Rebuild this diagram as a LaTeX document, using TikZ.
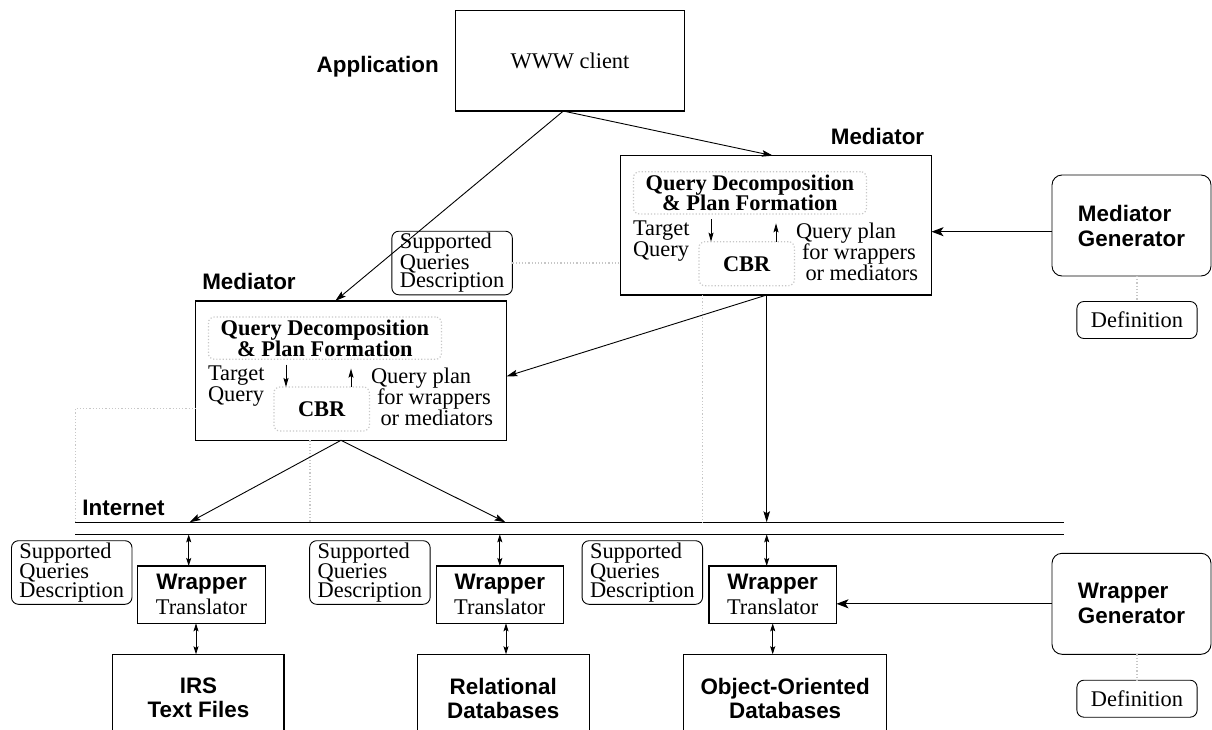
\documentclass[tikz,border=0pt]{standalone}
\usepackage{fontspec}
\setmainfont{Liberation Serif}
\setsansfont{Liberation Sans}
\usetikzlibrary{arrows.meta,calc}
\newcommand\drawmediator[3]{%
\begin{scope}[shift={(#2,#3)}]
  \node[box, minimum width=311pt, minimum height=139.3pt] (#1box) at (155.5,69.65) {};
  \node[dotbox, minimum width=233.1pt, minimum height=42.3pt, align=center,
        font=\fontsize{22.4}{20.6}\selectfont\bfseries] (#1qd) at (129.45,37.15)
        {Query Decomposition\\\& Plan Formation};
  \node[dotbox, minimum width=95.5pt, minimum height=44pt,
        font=\fontsize{22.4}{21}\selectfont\bfseries] (#1cbr) at (126.15,108) {CBR};
  \node[serif, anchor=west, align=left] (#1tq) at (12.5,85.5) {Target\\Query};
  \node[serif, anchor=west, align=left] (#1qp) at (175.5,96.3)
        {Query plan\\\hspace*{6pt}for wrappers\\\hspace*{9.5pt}or mediators};
  \coordinate (#1dA) at (90.5,63.6);
  \coordinate (#1uA) at (155.5,67.6);
  \draw[smarr] (#1dA) -- (#1dA |- #1cbr.north);
  \draw[smarr] (#1uA |- #1cbr.north) -- (#1uA);
\end{scope}}
\begin{document}
\begin{tikzpicture}[x=1pt,y=-1pt,
  every node/.style={inner sep=0pt, outer sep=0pt},
  serif/.style={font=\fontsize{22.4}{21}\selectfont},
  sanslbl/.style={font=\fontsize{22.4}{24}\selectfont\sffamily\bfseries},
  box/.style={draw, line width=1.1pt},
  rbox/.style={draw, line width=0.9pt, rounded corners=7pt},
  supbox/.style={rbox, align=left, font=\fontsize{22.4}{18.5}\selectfont,
                 minimum width=120.5pt, minimum height=63.6pt},
  genbox/.style={rbox, rounded corners=10pt, align=left, sanslbl,
                 font=\fontsize{22.4}{25}\selectfont\sffamily\bfseries,
                 minimum width=159pt, minimum height=101pt},
  defbox/.style={rbox, serif, minimum width=120.2pt, minimum height=37pt},
  wrapbox/.style={box, align=center, font=\fontsize{22.4}{25}\selectfont,
                  minimum width=127.5pt, minimum height=57.3pt},
  dbbox/.style={box, align=center, sanslbl, minimum height=87.4pt},
  dotbox/.style={draw=black!22, dotted, line width=1.2pt, rounded corners=6pt},
  faint/.style={draw=black!22, dotted, line width=1.2pt},
  arr/.style={line width=0.9pt, -{Stealth[length=11pt,width=6.5pt,inset=2pt]}},
  garr/.style={line width=1.1pt, -{Stealth[length=12pt,width=9pt,inset=3pt]}},
  smarr/.style={line width=0.9pt, -{Stealth[length=9pt,width=5pt,inset=1.5pt]}},
  darr/.style={line width=0.9pt, {Stealth[length=8pt,width=5pt,inset=1.5pt]}-{Stealth[length=8pt,width=5pt,inset=1.5pt]}},
  netline/.style={line width=1.3pt}
]
\useasboundingbox (0,0) rectangle (1212,730);
\clip (0,0) rectangle (1212,730);

% application
\node[sanslbl] (app) at (377.7,67) {Application};
\node[box, serif, minimum width=228.6pt, minimum height=100.3pt] (www) at (570,60.9) {WWW client};

% mediators
\node[sanslbl] (mRl) at (877.5,136.7) {Mediator};
\node[sanslbl] (mLl) at (249,281.7) {Mediator};
\drawmediator{mR}{620.5}{155.7}
\drawmediator{mL}{195.5}{301}

% supported queries descriptions
\node[supbox] (sq0) at (452.1,263) {Supported\\Queries\\Description};
\node[supbox] (sq1) at (71.75,572.5) {Supported\\Queries\\Description};
\node[supbox] (sq2) at (369.9,572.5) {Supported\\Queries\\Description};
\node[supbox] (sq3) at (642.3,572.5) {Supported\\Queries\\Description};

% generators and definitions
\node[genbox] (mg) at (1131.5,225.5) {Mediator\\Generator};
\node[genbox] (wg) at (1131.5,603.8) {Wrapper\\Generator};
\node[defbox] (md) at (1137,320) {Definition};
\node[defbox] (wd) at (1137,698.7) {Definition};

% internet
\node[sanslbl] (inet) at (123.5,508.3) {Internet};
\coordinate (n1L) at (75.4,522.3);
\coordinate (n1R) at (1064.4,522.3);
\coordinate (n2L) at (75.4,534.3);
\coordinate (n2R) at (1064.4,534.3);
\draw[netline] (n1L) -- (n1R);
\draw[netline] (n2L) -- (n2R);

% wrappers
\node[wrapbox] (w1) at (201.5,594.65) {{\sffamily\bfseries Wrapper}\\Translator};
\node[wrapbox] (w2) at (499.8,594.65) {{\sffamily\bfseries Wrapper}\\Translator};
\node[wrapbox] (w3) at (772.7,594.65) {{\sffamily\bfseries Wrapper}\\Translator};

% sources
\node[dbbox, minimum width=171.1pt] (irs) at (198.45,698) {IRS\\Text Files};
\node[dbbox, minimum width=172.3pt] (rel) at (503.25,698) {Relational\\Databases};
\node[dbbox, minimum width=202.5pt] (oo) at (785.15,698) {Object-Oriented\\Databases};

% faint dotted links
\coordinate (fL) at (75.4,408.3);
\coordinate (fM) at (310,0);
\coordinate (fR) at (702.7,0);
\draw[faint] (sq0.east) -- (sq0.east -| mRbox.west);
\draw[faint] (n1L) -- (fL) -- (fL -| mLbox.west);
\draw[faint] (fM |- mLbox.south) -- (fM |- n1L);
\draw[faint] (fR |- mRbox.south) -- (fR |- n1L);
\draw[faint] (mg.south -| md.north) -- (md.north);
\draw[faint] (wg.south -| wd.north) -- (wd.north);

% main arrows
\coordinate (wwwS) at ([xshift=-6.7pt]www.south);
\draw[arr] (wwwS) -- ([xshift=-3pt]mRbox.north);
\draw[arr] (wwwS) -- ([xshift=-15.8pt]mLbox.north);
\coordinate (mRd) at ([xshift=-9.3pt]mRbox.south);
\draw[arr] (mRd) -- ([yshift=-5.7pt]mLbox.east);
\draw[arr] (mRd) -- (mRd |- n1L);
\coordinate (mLd) at ([xshift=-10pt]mLbox.south);
\coordinate (p1) at (189.5,522.3);
\coordinate (p2) at (505.5,522.3);
\draw[arr] (mLd) -- (p1);
\draw[arr] (mLd) -- (p2);

% wrapper links
\coordinate (w1t) at ([xshift=-12.8pt]w1.north);
\coordinate (w2t) at (w2.north);
\coordinate (w3t) at ([xshift=-6pt]w3.north);
\draw[darr] (w1t |- n2L) -- (w1t);
\draw[darr] (w2t |- n2L) -- (w2t);
\draw[darr] (w3t |- n2L) -- (w3t);
\coordinate (w1b) at ([xshift=-5.5pt]w1.south);
\coordinate (w2b) at ([xshift=6.2pt]w2.south);
\coordinate (w3b) at (w3.south);
\draw[darr] (w1b) -- (w1b |- irs.north);
\draw[darr] (w2b) -- (w2b |- rel.north);
\draw[darr] (w3b) -- (w3b |- oo.north);

% generator arrows
\coordinate (mgA) at ([yshift=-6.2pt]mg.west);
\draw[garr] (mgA) -- (mgA -| mRbox.east);
\draw[garr] (wg.west) -- (wg.west -| w3.east);
\end{tikzpicture}
\end{document}
